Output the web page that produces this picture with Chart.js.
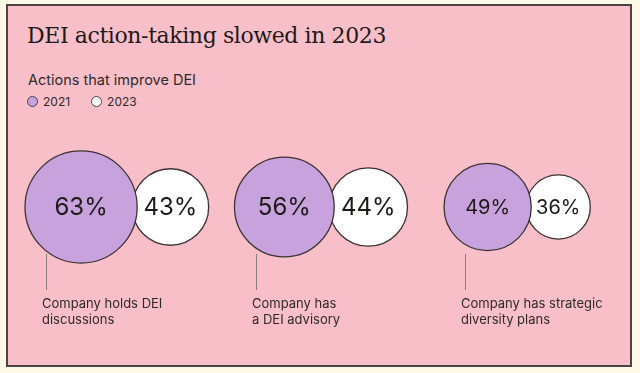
<!DOCTYPE html>
<html>
<head>
<meta charset="utf-8">
<script src="https://cdn.jsdelivr.net/npm/chart.js@4"></script>
<style>
  html, body { margin: 0; padding: 0; background: #fef8e6; }
  body { width: 640px; height: 373px; position: relative; overflow: hidden; }
  #panel {
    position: absolute; left: 6px; top: 4px; width: 622px; height: 359px;
    background: #f9bfc9; border: 2px solid #4a4444;
  }
  #title {
    position: absolute; left: 27px; top: 23px; margin: 0;
    font-family: "DejaVu Serif", serif; font-size: 22px; font-weight: normal;
    color: #1c1a1a; letter-spacing: -0.4px;
  }
  #subtitle {
    position: absolute; left: 28px; top: 71px;
    font-family: Inter, sans-serif; font-size: 14.5px; color: #2e2a2a;
  }
  #legend {
    position: absolute; left: 27px; top: 94px;
    font-family: Inter, sans-serif; font-size: 12px; color: #2e2a2a;
    display: flex; gap: 21px;
  }
  #legend span { display: flex; align-items: center; }
  #legend i {
    display: inline-block; width: 11px; height: 11px; border-radius: 50%;
    border: 1px solid #444; margin-right: 5px; box-sizing: border-box;
  }
  #chart { position: absolute; left: 0; top: 0; }
</style>
</head>
<body>
<div id="panel"></div>
<h1 id="title">DEI action-taking slowed in 2023</h1>
<div id="subtitle">Actions that improve DEI</div>
<div id="legend"></div>
<canvas id="chart" width="640" height="373"></canvas>
<script>
const categories = [
  ["Company holds DEI", "discussions"],
  ["Company has", "a DEI advisory"],
  ["Company has strategic", "diversity plans"],
];
const seriesLabels = ["2021", "2023"];
const values2021 = [63, 56, 49];
const values2023 = [43, 44, 36];

const colors = ["#c8a2dc", "#ffffff"];

// layout, in pixels
const PX_PER_POINT = 0.89; // circle radius per percentage point
const FIRST_ANCHOR = 46;
const ANCHOR_STEP = 209.5;
const LEFT_GAP = 21;
const OVERLAP = 5;

// legend
const legend = document.getElementById("legend");
seriesLabels.forEach((s, i) => {
  const span = document.createElement("span");
  span.innerHTML = `<i style="background:${colors[i]}"></i>${s}`;
  legend.appendChild(span);
});

// x scale unit = one percentage point of radius
const anchors = categories.map((c, i) => (FIRST_ANCHOR + i * ANCHOR_STEP) / PX_PER_POINT);
const gap = LEFT_GAP / PX_PER_POINT;
const overlap = OVERLAP / PX_PER_POINT;

const data2021 = values2021.map((v, i) => ({ x: anchors[i] - gap + v, y: 0, r: v * PX_PER_POINT, v }));
const data2023 = values2023.map((v, i) => ({
  x: data2021[i].x + values2021[i] + v - overlap, y: 0, r: v * PX_PER_POINT, v,
}));

const labelsPlugin = {
  id: "bubbleLabels",
  afterDatasetsDraw(chart) {
    const ctx = chart.ctx;
    const xs = chart.scales.x;
    ctx.save();
    [0, 1].forEach((d) => {
      chart.getDatasetMeta(d).data.forEach((el, i) => {
        const small = Math.min(values2021[i], values2023[i]) < 40;
        ctx.font = `${small ? 20 : 24}px Inter, sans-serif`;
        ctx.fillStyle = "#1e1a1a";
        ctx.textAlign = "center";
        ctx.textBaseline = "middle";
        const v = chart.data.datasets[d].data[i].v;
        ctx.fillText(v + "%", el.x, el.y + 1);
      });
    });
    categories.forEach((lines, i) => {
      const x = Math.round(xs.getPixelForValue(anchors[i])) + 0.5;
      ctx.strokeStyle = "#8a8080";
      ctx.lineWidth = 1;
      ctx.beginPath();
      ctx.moveTo(x, 254);
      ctx.lineTo(x, 290);
      ctx.stroke();
      ctx.font = "13px Inter, sans-serif";
      ctx.fillStyle = "#2e2a2a";
      ctx.textAlign = "left";
      ctx.textBaseline = "middle";
      lines.forEach((t, j) => ctx.fillText(t, x - 4.5, 304 + j * 16));
    });
    ctx.restore();
  },
};

new Chart(document.getElementById("chart"), {
  type: "bubble",
  data: {
    datasets: [
      { label: seriesLabels[0], data: data2021, backgroundColor: colors[0], borderColor: "#3a3333", borderWidth: 1.3, clip: false },
      { label: seriesLabels[1], data: data2023, backgroundColor: colors[1], borderColor: "#3a3333", borderWidth: 1.3, clip: false },
    ],
  },
  options: {
    responsive: false,
    animation: false,
    events: [],
    layout: { autoPadding: false, padding: { top: 41, bottom: 0, left: 0, right: 0 } },
    plugins: { legend: { display: false }, tooltip: { enabled: false } },
    elements: { point: { hoverRadius: 0 } },
    scales: {
      x: { type: "linear", display: false, min: 0, max: 640 / PX_PER_POINT },
      y: { type: "linear", display: false, min: -1, max: 1 },
    },
  },
  plugins: [labelsPlugin],
});
</script>
</body>
</html>
